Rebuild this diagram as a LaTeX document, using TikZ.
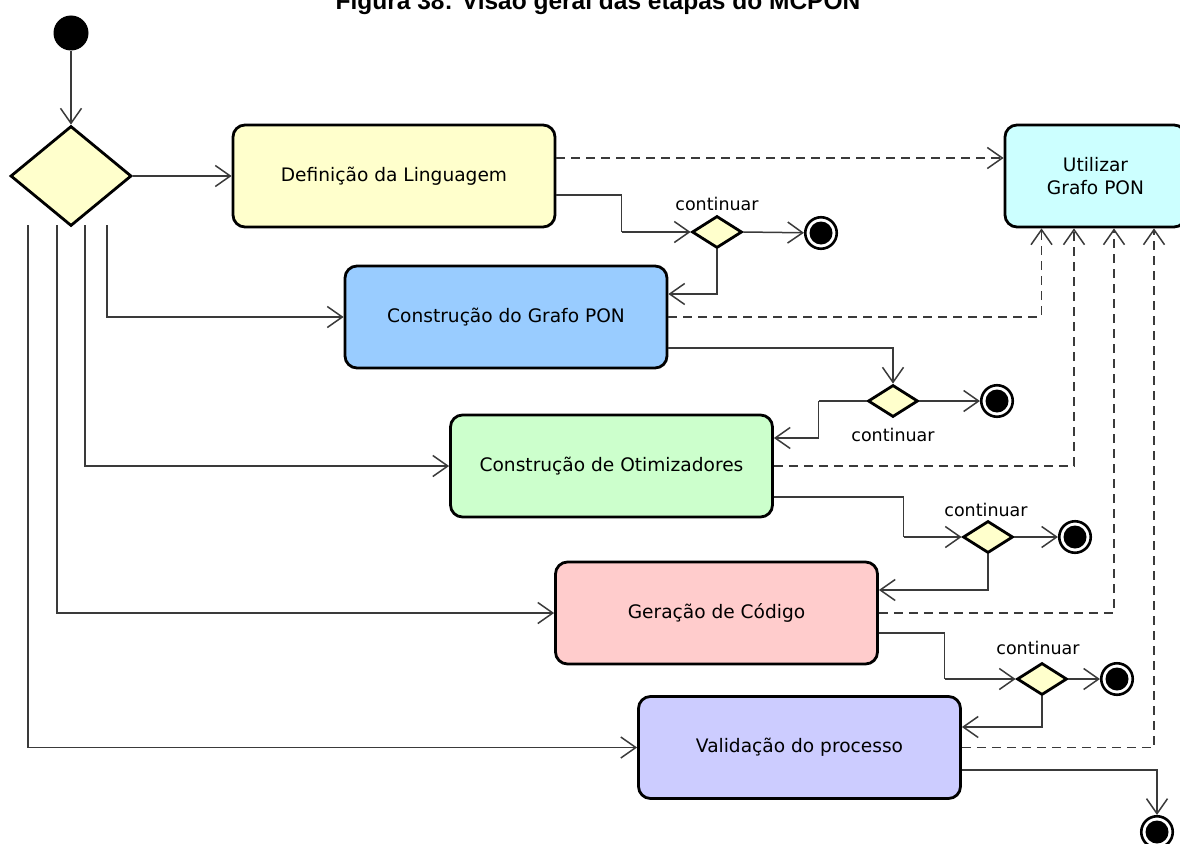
\documentclass[tikz,border=0pt]{standalone}
\usepackage{fontspec}
\setmainfont{DejaVu Sans}
\newfontfamily\titlefont{Liberation Sans}
\usetikzlibrary{arrows.meta,shapes.geometric}

\definecolor{cYellow}{HTML}{FFFFCC}
\definecolor{cBlue}{HTML}{99CCFF}
\definecolor{cGreen}{HTML}{CCFFCC}
\definecolor{cRed}{HTML}{FFCCCC}
\definecolor{cViolet}{HTML}{CCCCFF}
\definecolor{cCyan}{HTML}{CCFFFF}
\definecolor{cLine}{HTML}{3A3A3A}

\begin{document}
\begin{tikzpicture}[x=1pt,y=-1pt,
  stepbox/.style={draw=black, line width=2.8pt, rounded corners=12pt,
    minimum width=322pt, minimum height=102pt, inner sep=0pt,
    font=\fontsize{18.6}{23}\selectfont, align=center},
  startdot/.style={circle, fill=black, minimum size=35pt, inner sep=0pt},
  bigdecision/.style={diamond, draw=black, line width=2.8pt, fill=cYellow,
    minimum width=121pt, minimum height=100pt, inner sep=0pt},
  decision/.style={diamond, draw=black, line width=2.8pt, fill=cYellow,
    minimum width=50pt, minimum height=32pt, inner sep=0pt},
  finalnode/.style={circle, draw=black, line width=2.6pt, fill=white,
    minimum size=31.5pt, inner sep=0pt,
    path picture={\fill[black] (path picture bounding box.center) circle (11.5pt);}},
  lbl/.style={font=\fontsize{17.5}{20}\selectfont, inner sep=0pt},
  flow/.style={draw=cLine, line width=1.5pt,
    -{Straight Barb[length=15pt,width=21pt,line width=1.5pt]}},
  plain/.style={draw=cLine, line width=1.5pt},
  dep/.style={flow, dash pattern=on 9pt off 6pt},
]
\useasboundingbox (0,0) rectangle (1180,843);
\clip (0,0) rectangle (1180,843);

% caption (its upper part lies above the frame)
\node[anchor=base, inner sep=0pt, font=\titlefont\bfseries\fontsize{24.5}{28}\selectfont]
  (title) at (598,10) {Figura 38: Visão geral das etapas do MCPON};

% initial node and first decision
\node[startdot] (init) at (71,33) {};
\node[bigdecision] (dec) at (71,176) {};

% activities
\node[stepbox, fill=cYellow] (def) at (394,176) {Definição da Linguagem};
\node[stepbox, fill=cBlue]   (cgp) at (506,317) {Construção do Grafo PON};
\node[stepbox, fill=cGreen]  (opt) at (611.5,466) {Construção de Otimizadores};
\node[stepbox, fill=cRed]    (gen) at (716.5,613) {Geração de Código};
\node[stepbox, fill=cViolet] (val) at (799.5,747.5) {Validação do processo};
\node[stepbox, fill=cCyan, minimum width=181pt] (use) at (1095.5,176) {Utilizar\\Grafo PON};

% "continuar" decisions and their final nodes
\node[decision] (s1) at (717,232) {};
\node[decision] (s2) at (893,401) {};
\node[decision] (s3) at (988,537) {};
\node[decision] (s4) at (1042,679) {};
\node[finalnode] (e1) at (821,233) {};
\node[finalnode] (e2) at (997,401) {};
\node[finalnode] (e3) at (1075,537) {};
\node[finalnode] (e4) at (1117,679) {};
\node[finalnode] (e5) at (1157,832) {};

\node[lbl, anchor=base] (l1) at (717,210) {continuar};
\node[lbl, anchor=base] (l2) at (893,441) {continuar};
\node[lbl, anchor=base] (l3) at (986,516) {continuar};
\node[lbl, anchor=base] (l4) at (1038,654) {continuar};

% branches leaving the first decision
\coordinate (b1) at (107,225);
\coordinate (b2) at (85,225);
\coordinate (b3) at (57,225);
\coordinate (b4) at (28,225);

\draw[flow] (init) -- (dec.north);
\draw[flow] (dec.east) -- (def.west);
\draw[flow] (b1) |- (cgp.west);
\draw[flow] (b2) |- (opt.west);
\draw[flow] (b3) |- (gen.west);
\draw[flow] (b4) |- (val.west);

% main sequence through the decisions
\draw[plain] ([yshift=-19pt]def.east) -| ([xshift=-69pt]s1.west);
\draw[flow] ([xshift=-69pt]s1.west) -- (s1.west);
\draw[flow] (s1.east) -- (e1);
\draw[flow] (s1.south) |- ([yshift=23pt]cgp.east);

\draw[flow] ([yshift=-31pt]cgp.east) -| (s2.north);
\draw[flow] (s2.east) -- (e2);
\draw[plain] (s2.west) -- ([xshift=-48pt]s2.west);
\draw[flow] ([xshift=-48pt]s2.west) |- ([yshift=28pt]opt.east);

\draw[plain] ([yshift=-31pt]opt.east) -| ([xshift=-58pt]s3.west);
\draw[flow] ([xshift=-58pt]s3.west) -- (s3.west);
\draw[flow] (s3.east) -- (e3);
\draw[flow] (s3.south) |- ([yshift=23pt]gen.east);

\draw[plain] ([yshift=-20pt]gen.east) -| ([xshift=-71pt]s4.west);
\draw[flow] ([xshift=-71pt]s4.west) -- (s4.west);
\draw[flow] (s4.east) -- (e4);
\draw[flow] (s4.south) |- ([yshift=20.5pt]val.east);

\draw[flow] ([yshift=-22.5pt]val.east) -| (e5.north);

% dependencies on the PON graph
\draw[dep] ([yshift=18pt]def.east) -- ([yshift=18pt]use.west);
\draw[dep] (cgp.east) -| ([xshift=-54pt]use.south);
\draw[dep] (opt.east) -| ([xshift=-21.5pt]use.south);
\draw[dep] (gen.east) -| ([xshift=18.5pt]use.south);
\draw[dep] (val.east) -| ([xshift=58.5pt]use.south);
\end{tikzpicture}
\end{document}
